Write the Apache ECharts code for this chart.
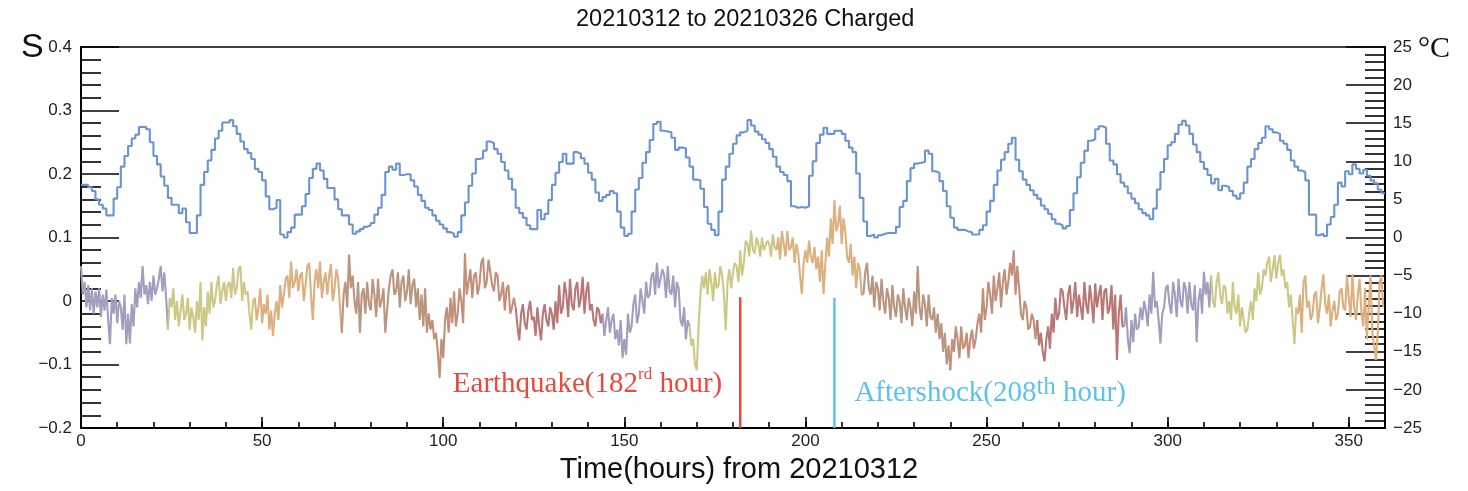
<!DOCTYPE html>
<html><head><meta charset="utf-8">
<script src="https://cdn.jsdelivr.net/npm/echarts@6/dist/echarts.min.js"></script>
<style>html,body{margin:0;padding:0;background:#fff}#c{width:1468px;height:491px}</style>
</head><body><div id="c"></div>
<script>
// Hourly temperature (°C), hours 0..359 (right axis, step line)
const temperature = [
6.9,6.9,6.6,6.1,5.0,4.3,3.8,2.9,2.9,5.1,
6.6,9.3,10.7,12.0,13.0,13.5,14.5,14.5,14.2,12.5,
10.7,9.6,8.0,6.8,5.2,4.3,4.3,3.2,3.8,2.0,
0.6,0.6,2.9,6.9,8.6,10.1,11.5,13.0,14.0,15.1,
15.1,15.4,14.6,13.6,12.6,11.6,11.1,10.3,9.0,8.6,
7.5,5.4,3.7,3.9,4.9,0.4,0.0,0.7,1.3,3.0,
3.0,4.1,5.7,7.8,9.0,9.7,8.8,7.7,6.5,6.5,
5.0,3.7,2.9,2.9,1.7,0.5,0.8,1.1,1.4,1.6,
1.9,3.0,3.9,5.6,8.6,9.3,8.9,9.7,8.2,8.3,
8.3,7.5,6.7,5.6,4.8,3.9,3.6,2.9,2.2,1.7,
1.2,0.7,0.5,0.1,0.7,2.9,4.6,6.8,8.4,10.3,
10.4,11.4,12.6,12.4,11.6,11.0,9.9,8.8,7.7,6.3,
3.9,3.2,2.6,1.6,1.1,1.1,3.6,2.4,3.1,4.9,
6.9,8.5,9.9,11.0,9.7,9.7,11.2,11.0,10.4,9.7,
8.5,7.6,5.9,4.8,5.3,5.6,6.1,5.8,3.4,1.3,
0.2,0.5,3.4,6.3,7.8,9.8,11.2,12.8,14.9,15.2,
14.0,13.9,13.8,13.1,11.5,11.8,11.7,10.5,9.3,7.6,
7.5,6.4,4.0,1.8,1.0,0.3,3.4,7.6,9.3,11.0,
12.3,13.4,13.8,14.0,15.4,14.7,13.9,13.5,12.9,12.4,
11.6,10.6,9.3,8.6,8.2,7.4,4.1,3.9,4.0,3.9,
4.1,8.1,10.0,12.4,13.5,14.4,13.6,13.6,14.0,14.0,
13.6,12.7,11.8,11.2,8.4,5.2,2.1,0.2,0.4,0.0,
0.3,0.5,0.6,0.6,0.6,1.4,4.0,4.8,7.4,9.1,
9.7,9.8,9.9,11.4,11.0,8.7,8.5,7.4,6.1,4.1,
2.6,1.3,1.0,1.0,0.8,0.7,0.4,0.4,1.0,1.6,
3.4,4.8,6.9,8.8,10.2,11.2,12.3,13.1,10.2,8.7,
7.6,6.9,6.2,5.6,5.1,4.2,3.7,3.1,2.4,1.8,
1.6,1.2,1.5,3.6,5.8,7.9,9.8,11.4,12.7,12.9,
14.2,14.6,14.4,12.3,10.1,9.6,8.3,7.2,6.7,5.8,
5.1,4.5,3.7,3.2,2.9,2.4,3.8,6.3,8.6,10.3,
12.1,12.5,13.6,14.8,15.3,14.7,13.6,12.2,11.2,9.9,
9.0,8.2,7.1,7.7,6.2,6.8,6.6,6.1,5.5,5.1,
5.8,7.2,9.3,10.3,11.6,12.4,13.1,14.6,14.2,13.8,
13.6,12.7,12.3,11.5,10.1,9.3,8.8,8.6,7.5,3.0,
3.0,0.3,0.5,0.2,1.7,2.7,4.3,7.2,6.7,8.7,
8.3,9.6,9.0,8.4,8.9,8.1,7.5,7.1,6.3,5.8
];

// S values, one array per day (24 h), sampled every half hour
const sDay01 = [.055,.010,.030,-.010,.025,-.015,.020,-.020,.015,-.010,.020,-.025,
 .010,-.015,.018,-.030,-.068,.005,-.020,.010,-.035,.000,-.010,-.045,
 .010,-.068,-.020,-.067,-.005,-.040,.020,-.010,.030,.005,.055,.010,
 .025,-.005,.030,.000,.040,.010,.020,.035,.055,.015,.045,.005];
const sDay02 = [-.045,.005,-.010,.020,-.030,.000,-.040,-.015,.010,-.030,-.020,.005,
 -.045,-.010,-.025,-.050,.000,-.030,.030,-.062,-.010,-.040,.015,-.020,
 .030,-.010,.000,.025,.040,-.005,.015,.030,.000,.025,.030,.005,
 .052,.010,.020,.050,.055,.000,.030,.010,.015,-.020,-.045,.000];
const sDay03 = [.005,-.030,-.010,.020,-.035,-.005,-.020,.010,-.045,-.015,-.055,-.020,
 .000,-.030,.025,-.010,.010,.035,.040,.005,.062,.020,.030,.050,
 .015,.040,.045,.000,.025,.055,.060,.010,-.030,.030,.050,.020,
 .062,.005,.030,.045,.010,.040,.058,.000,.020,.050,.035,-.010];
const sDay04 = [-.050,.010,.030,-.010,.073,.020,.040,.000,-.020,.030,-.050,.010,
 .020,-.020,.030,-.005,-.015,.035,.010,-.025,.035,-.010,.000,.020,
 -.050,-.015,.020,.040,.050,.010,.015,.045,-.010,.030,.040,.000,
 .015,.050,-.005,.025,.035,-.010,.020,-.030,.010,-.040,.020,-.050];
const sDay05 = [-.020,-.045,-.030,-.060,-.050,-.080,-.121,-.060,-.090,-.030,-.010,-.050,
 .005,-.035,.015,-.040,-.020,.020,.000,-.035,.075,.010,.030,.050,
 .005,.040,.045,.010,.025,.060,.068,.020,.030,.065,.068,.025,
 .015,.045,.040,.000,.010,.030,-.015,.020,.025,-.020,-.010,.005];
const sDay06 = [-.010,-.040,-.062,-.020,-.005,-.035,-.045,-.015,.000,-.030,-.025,-.055,
 -.010,-.040,-.062,-.020,-.005,-.030,-.040,-.010,-.020,-.045,.000,-.035,
 .025,-.020,-.010,.030,.010,-.025,.035,-.005,-.015,.020,.030,-.010,
 .005,.038,-.020,.015,.030,-.015,-.005,-.030,-.040,-.010,-.015,-.035];
const sDay07 = [-.020,-.055,-.030,-.010,-.050,-.030,-.020,-.060,-.045,-.070,-.030,-.090,
 -.060,-.085,-.020,-.050,-.040,-.005,.010,-.035,-.020,.020,.000,-.020,
 .030,.005,.010,.040,.045,.010,.060,.020,.020,.050,.040,.005,
 .055,.015,.010,.040,-.010,.030,.020,-.030,-.040,-.010,-.060,-.030];
const sDay08 = [-.040,-.070,-.060,-.100,-.109,-.040,.010,.040,.020,.045,.010,.050,
 .030,.000,.045,.020,.025,.055,.040,.010,-.046,.030,.050,.020,
 .045,.060,.055,.030,.080,.040,.060,.095,.090,.070,.111,.080,
 .075,.100,.090,.070,.100,.080,.080,.095,.090,.070,.105,.085];
const sDay09 = [.080,.100,.065,.110,.090,.070,.110,.080,.085,.100,.060,.090,
 .075,.040,.011,.060,.080,.060,.095,.070,.060,.085,.050,.070,
 .030,.080,.011,.060,.100,.070,.130,.090,.159,.110,.120,.150,
 .090,.130,.110,.070,.060,.090,.040,.070,.020,.060,.050,.010];
const sDay10 = [.010,.045,.060,.020,.010,.040,-.010,.030,.020,-.015,.035,.000,
 -.020,.020,.005,-.030,.025,-.010,-.025,.010,.000,-.035,.020,-.010,
 -.030,.005,-.010,-.040,.015,-.020,.055,-.010,-.030,.010,-.005,-.040,
 .010,-.025,-.030,-.010,-.050,-.020,-.060,-.035,-.080,-.050,-.100,-.070];
const sDay11 = [-.109,-.060,-.080,-.040,-.060,-.090,-.040,-.075,-.070,-.050,-.090,-.060,
 -.045,-.075,-.060,-.035,-.020,-.050,.020,-.030,-.010,.030,.010,-.020,
 .040,.000,.020,.045,-.010,.030,.050,.010,.030,.060,.040,.080,
 .010,.055,.020,-.020,-.030,.000,-.010,-.045,-.040,-.020,-.030,-.060];
const sDay12 = [-.030,-.070,-.050,-.080,-.095,-.060,-.040,-.075,-.020,-.050,.005,-.030,
 -.020,.020,.015,-.010,-.030,.010,.025,-.020,.000,.030,-.025,.010,
 .010,-.030,.030,-.005,-.020,.025,.000,-.035,.028,-.010,.010,.025,
 -.030,.015,.020,-.020,-.010,.025,-.045,.010,-.093,-.020,.010,-.040];
const sDay13 = [-.040,-.010,-.060,-.082,-.030,-.065,-.020,-.045,-.040,-.010,-.030,.000,
 -.015,-.040,.010,-.020,.046,-.010,.000,-.030,-.067,-.020,-.010,.020,
 .025,-.005,-.020,.030,.010,-.025,.035,.000,-.010,.030,.020,-.020,
 .030,-.005,-.015,.025,-.065,.000,.020,-.020,.046,.010,.030,-.010];
const sDay14 = [.040,.000,-.010,.030,.045,.010,-.005,.025,.020,-.020,.000,-.030,
 .030,-.010,-.020,.010,-.040,-.010,-.030,-.050,-.045,-.020,.000,-.030,
 .020,.000,.045,.010,.020,.050,.040,.060,.070,.030,.050,.072,
 .035,.060,.073,.040,.050,.020,.030,-.010,.010,-.030,-.068,-.010];
const sDay15 = [-.020,.010,-.050,.030,.040,-.010,.000,-.030,-.020,.010,.015,-.035,
 -.010,.020,.042,-.005,-.020,.010,-.040,-.015,.000,-.030,-.020,.015,
 .020,-.010,-.015,.040,.005,-.025,.042,-.010,-.030,.010,.035,-.020,
 -.040,.020,-.060,-.010,.040,-.050,-.070,-.093,-.050,.030,.040,-.010];
const sDays = [sDay01,sDay02,sDay03,sDay04,sDay05,sDay06,sDay07,sDay08,sDay09,sDay10,sDay11,sDay12,sDay13,sDay14,sDay15];

// Events
const eventHours = [182, 208];
const eventTops = [0.006, 0.005];
const eventLabelY = [-0.131, -0.145];

const dayColors = ['#a29fbe','#cdc886','#dcb07f','#b8967f','#c48f7a','#b97878'];
const SANS = '"Liberation Sans", Arial, sans-serif';
const SERIF = '"Liberation Serif", "Times New Roman", serif';

const series = [];
const tData = temperature.map((v, i) => [i, v]);
tData.push([temperature.length, temperature[temperature.length - 1]]);
series.push({
  type: 'line', xAxisIndex: 0, yAxisIndex: 1, data: tData, step: 'end',
  symbol: 'none', lineStyle: { color: '#6b93d2', width: 2.1 }, z: 4
});
sDays.forEach((arr, d) => {
  const pts = arr.map((v, i) => [d * 24 + i * 0.5, v]);
  if (sDays[d + 1]) pts.push([(d + 1) * 24, sDays[d + 1][0]]);
  series.push({
    type: 'line', xAxisIndex: 0, yAxisIndex: 0, data: pts, symbol: 'none',
    lineStyle: { color: dayColors[d % 6], width: 2.1 }, z: 3
  });
});
const evColors = ['#ea4a3e', '#5cc2ec'];
const evLabels = ['Earthquake(182{s1|rd} hour)', 'Aftershock(208{s2|th} hour)'];
eventHours.forEach((h, k) => {
  series.push({
    type: 'line', xAxisIndex: 0, yAxisIndex: 0, symbol: 'circle', symbolSize: 0.01,
    showSymbol: true, showAllSymbol: true, z: 5,
    itemStyle: { color: evColors[k] },
    lineStyle: { color: evColors[k], width: 2.5 },
    label: { show: false },
    data: [
      [h, eventTops[k]],
      { value: [h, eventLabelY[k]], label: {
          show: true, position: k === 0 ? 'left' : 'right', distance: k === 0 ? 18 : 20,
          formatter: evLabels[k], color: evColors[k], fontFamily: SERIF, fontSize: 29, lineHeight: 36,
          rich: {
            s1: { fontSize: 17, lineHeight: 17, verticalAlign: 'top', color: evColors[k], fontFamily: SERIF },
            s2: { fontSize: 25, lineHeight: 25, verticalAlign: 'top', color: evColors[k], fontFamily: SERIF }
          }
      } },
      [h, -0.2]
    ]
  });
});

const minusFmt = (v) => {
  const r = Math.round(v * 10) / 10;
  return r < 0 ? '\u2212' + Math.abs(r) : String(r);
};
const tickStyle = { color: '#000', width: 1.6 };

const option = {
  animation: false,
  backgroundColor: '#fff',
  grid: { left: 81, right: 83, top: 47, bottom: 63, outerBoundsMode: 'none', containLabel: false,
          show: true, borderColor: '#000', borderWidth: 1.5, backgroundColor: 'transparent' },
  graphic: [
    { type: 'text', left: 576, top: 8, style: { text: '20210312 to 20210326 Charged', font: '23.5px ' + SANS, fill: '#111' } },
    { type: 'text', left: 21, top: 31, style: { text: 'S', font: '34px ' + SANS, fill: '#111' } },
    { type: 'text', left: 1418, top: 34, style: { text: '\u00b0C', font: '30px ' + SERIF, fill: '#111' } }
  ],
  xAxis: [
    {
      type: 'value', min: 0, max: 360, interval: 50, position: 'bottom',
      name: 'Time(hours) from 20210312', nameLocation: 'middle', nameGap: 27,
      nameTextStyle: { fontFamily: SANS, fontSize: 29, color: '#111', padding: [0, 0, 0, 12] },
      axisLine: { onZero: false, lineStyle: { color: '#000', width: 2 } },
      axisTick: { inside: true, length: 11, lineStyle: tickStyle },
      axisLabel: { showMaxLabel: false, margin: 5, color: '#222', fontFamily: SANS, fontSize: 17 },
      splitLine: { show: false }
    },
    {
      type: 'value', min: 0, max: 360, interval: 10, position: 'bottom',
      axisLine: { show: false, onZero: false },
      axisTick: { inside: true, length: 6, lineStyle: tickStyle },
      axisLabel: { show: false }, splitLine: { show: false }
    }
  ],
  yAxis: [
    {
      type: 'value', min: -0.2, max: 0.4, interval: 0.1, position: 'left',
      axisLine: { show: true, onZero: false, lineStyle: { color: '#000', width: 2 } },
      axisTick: { inside: true, length: 38, lineStyle: tickStyle },
      minorTick: { show: true, splitNumber: 5, length: 20, lineStyle: tickStyle },
      axisLabel: { margin: 9, color: '#222', fontFamily: SANS, fontSize: 17, formatter: minusFmt },
      splitLine: { show: false }, minorSplitLine: { show: false }
    },
    {
      type: 'value', min: -25, max: 25, interval: 5, position: 'right',
      axisLine: { show: true, onZero: false, lineStyle: { color: '#000', width: 2 } },
      axisTick: { inside: true, length: 39, lineStyle: tickStyle },
      minorTick: { show: true, splitNumber: 5, length: 20, lineStyle: tickStyle },
      axisLabel: { margin: 8, color: '#222', fontFamily: SANS, fontSize: 17, formatter: minusFmt },
      splitLine: { show: false }, minorSplitLine: { show: false }
    }
  ],
  series: series
};
const chart = echarts.init(document.getElementById('c'));
chart.setOption(option);
</script>
</body></html>
